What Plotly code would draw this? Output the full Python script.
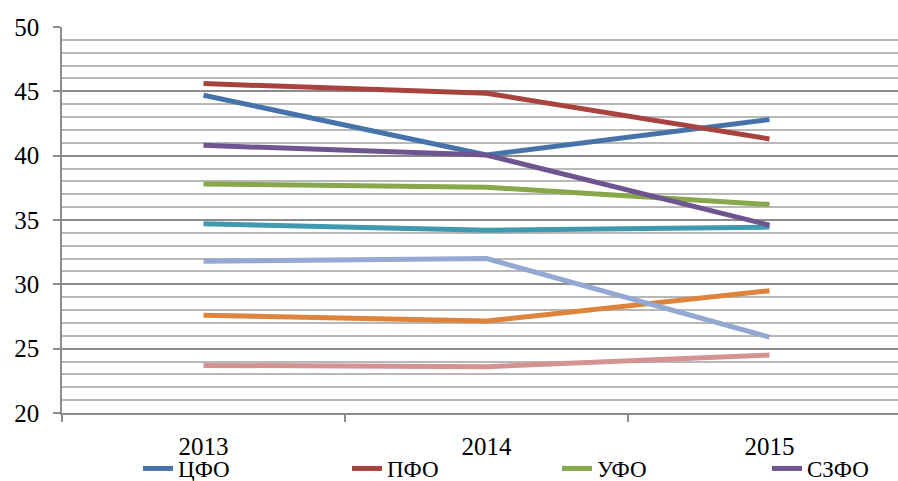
import plotly.graph_objects as go

years = ["2013", "2014", "2015"]

# Shares by federal district, %
cfo = [44.7, 40.05, 42.8]
pfo = [45.6, 44.85, 41.3]
ufo = [37.8, 37.55, 36.2]
szfo = [40.8, 40.05, 34.6]
yufo = [34.7, 34.2, 34.45]
skfo = [27.6, 27.15, 29.5]
sfo = [31.8, 32.0, 25.9]
dfo = [23.7, 23.6, 24.5]

# name, values, colour, legend id (None = not listed)
series = [
    ("ЮФО", yufo, "#3F9AB0", None),
    ("СКФО", skfo, "#DE833A", None),
    ("СФО", sfo, "#93A9D1", None),
    ("ДФО", dfo, "#D39393", None),
    ("ЦФО", cfo, "#4673A9", "legend"),
    ("ПФО", pfo, "#A9433F", "legend2"),
    ("УФО", ufo, "#86A74A", "legend3"),
    ("СЗФО", szfo, "#6F5590", "legend4"),
]

fig = go.Figure()
for name, vals, color, leg in series:
    fig.add_trace(go.Scatter(
        x=years, y=vals, name=name, mode="lines",
        line=dict(color=color, width=5),
        showlegend=leg is not None,
        legend=leg if leg else "legend",
    ))

font_family = "Liberation Serif"
legend_font = dict(family=font_family, size=23, color="#000000")
legend_x = {"legend": 0.1537, "legend2": 0.3864, "legend3": 0.6203, "legend4": 0.8541}
legends = {
    key: dict(
        xref="container", yref="container", x=xv, y=0.026,
        xanchor="left", yanchor="middle", orientation="h",
        font=legend_font, bgcolor="rgba(0,0,0,0)", borderwidth=0,
    )
    for key, xv in legend_x.items()
}

fig.update_layout(
    width=898, height=481,
    margin=dict(l=62, r=0, t=27, b=68, autoexpand=False),
    paper_bgcolor="white", plot_bgcolor="white",
    font=dict(family=font_family, size=25, color="#000000"),
    showlegend=True,
    **legends,
    xaxis=dict(
        type="category", range=[-0.5, 2.454],
        tickson="boundaries", ticks="outside", ticklen=7, tickcolor="#8C8C8C",
        tickwidth=1.5,
        showline=True, linecolor="#8C8C8C", linewidth=1.5,
        showgrid=False, zeroline=False,
        tickfont=dict(family=font_family, size=25),
        ticklabelstandoff=10,
    ),
    yaxis=dict(
        range=[20, 50], dtick=5, tick0=20,
        ticks="outside", ticklen=7, tickcolor="#8C8C8C", tickwidth=1.5,
        showline=True, linecolor="#8C8C8C", linewidth=1.5,
        showgrid=True, gridcolor="#8C8C8C", gridwidth=1.5,
        zeroline=False,
        minor=dict(dtick=1, showgrid=True, gridcolor="#B8B8B8", gridwidth=1.5),
        tickfont=dict(family=font_family, size=25),
        ticklabelstandoff=9,
    ),
)

fig.write_html("out.html")
